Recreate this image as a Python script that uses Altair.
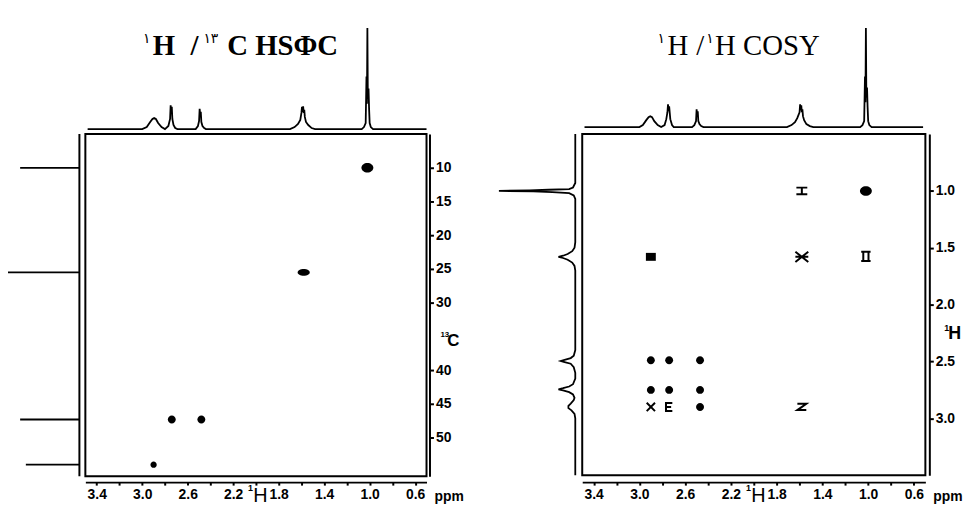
import altair as alt
import pandas as pd

# ---------------- data ----------------
H_PPM = [0.5, 3.5]      # 1H chemical-shift window
C_PPM = [5.0, 55.7]     # 13C chemical-shift window (HSQC F1)

# 1D 1H spectrum above the HSQC map
hsqc_top_ppm = [3.48, 3.00,
                2.96, 2.93, 2.91, 2.895, 2.88, 2.86, 2.83, 2.80,
                2.77, 2.755, 2.75, 2.745, 2.74, 2.735, 2.725, 2.71, 2.69,
                2.53, 2.51, 2.50, 2.495, 2.49, 2.485, 2.48, 2.47, 2.455, 2.44,
                1.70, 1.66, 1.63, 1.61, 1.60, 1.595, 1.59, 1.585, 1.58, 1.575, 1.57, 1.56, 1.54, 1.51, 1.48,
                1.07, 1.05, 1.035, 1.028, 1.024, 1.02, 1.016, 1.01, 1.005, 1.00, 0.99, 0.97,
                0.50]
hsqc_top_int = [0.0, 0.0,
                0.02, 0.07, 0.10, 0.11, 0.10, 0.06, 0.02, 0.0,
                0.03, 0.10, 0.235, 0.17, 0.22, 0.10, 0.04, 0.01, 0.0,
                0.0, 0.03, 0.08, 0.20, 0.14, 0.17, 0.07, 0.03, 0.01, 0.0,
                0.0, 0.02, 0.05, 0.09, 0.16, 0.22, 0.17, 0.225, 0.16, 0.19, 0.12, 0.07, 0.04, 0.01, 0.0,
                0.0, 0.02, 0.06, 0.52, 0.25, 1.0, 0.30, 0.40, 0.20, 0.06, 0.02, 0.0,
                0.0]

# 1D 1H spectrum above the COSY map
cosy_top_ppm = [3.48, 3.00,
                2.97, 2.94, 2.92, 2.905, 2.89, 2.87, 2.84, 2.81,
                2.78, 2.765, 2.755, 2.75, 2.745, 2.74, 2.73, 2.715, 2.70,
                2.54, 2.52, 2.505, 2.50, 2.495, 2.49, 2.485, 2.475, 2.46, 2.44,
                1.71, 1.67, 1.64, 1.62, 1.60, 1.595, 1.59, 1.585, 1.58, 1.575, 1.57, 1.56, 1.54, 1.51, 1.48,
                1.07, 1.05, 1.035, 1.028, 1.024, 1.02, 1.016, 1.01, 1.005, 1.00, 0.99, 0.97,
                0.52]
cosy_top_int = [0.0, 0.0,
                0.02, 0.07, 0.10, 0.11, 0.10, 0.06, 0.02, 0.0,
                0.02, 0.08, 0.15, 0.23, 0.16, 0.21, 0.08, 0.02, 0.0,
                0.0, 0.02, 0.06, 0.18, 0.12, 0.16, 0.06, 0.03, 0.01, 0.0,
                0.0, 0.02, 0.05, 0.09, 0.15, 0.23, 0.17, 0.22, 0.15, 0.18, 0.11, 0.07, 0.03, 0.01, 0.0,
                0.0, 0.02, 0.06, 0.51, 0.25, 1.0, 0.30, 0.40, 0.20, 0.06, 0.02, 0.0,
                0.0]

# 1D 1H projection along the COSY F1 axis
cosy_side_ppm = [0.50, 0.93, 0.97, 0.985, 0.99, 0.995, 1.00, 1.005, 1.01, 1.02, 1.04, 1.07,
                 1.45, 1.50, 1.53, 1.555, 1.57, 1.58, 1.59, 1.605, 1.63, 1.66, 1.70,
                 2.40, 2.45, 2.47, 2.485, 2.495, 2.505, 2.52, 2.55, 2.60,
                 2.65, 2.70, 2.72, 2.735, 2.745, 2.755, 2.77, 2.79, 2.82,
                 2.84, 2.87, 2.89, 2.91, 2.93, 2.96, 3.00, 3.50]
cosy_side_int = [0.0, 0.0, 0.03, 0.08, 0.35, 0.60, 1.00, 0.55, 0.30, 0.08, 0.02, 0.0,
                 0.0, 0.01, 0.04, 0.10, 0.16, 0.22, 0.16, 0.10, 0.04, 0.01, 0.0,
                 0.0, 0.02, 0.06, 0.14, 0.19, 0.14, 0.06, 0.02, 0.0,
                 0.0, 0.03, 0.08, 0.16, 0.22, 0.16, 0.08, 0.03, 0.01,
                 0.02, 0.06, 0.09, 0.09, 0.05, 0.01, 0.0, 0.0]

# 13C lines along the HSQC F1 axis
c13_ppm = [10.0, 25.5, 47.3, 54.0]
c13_int = [0.83, 1.00, 0.83, 0.75]

# HSQC cross peaks
hsqc_f2 = [1.02, 1.58, 2.74, 2.48, 2.90]
hsqc_f1 = [10.0, 25.5, 47.3, 47.3, 54.0]
hsqc_type = ["strong", "oval", "medium", "medium", "weak"]

# COSY peaks
cosy_f2 = [1.58, 1.02, 2.90, 1.58, 1.02, 2.90, 2.74, 2.47, 2.90, 2.74, 2.47, 2.90, 2.74, 2.47, 1.58]
cosy_f1 = [1.00, 1.00, 1.58, 1.58, 1.58, 2.49, 2.49, 2.49, 2.75, 2.75, 2.75, 2.90, 2.90, 2.90, 2.90]
cosy_type = ["H", "strong", "square", "star", "P", "medium", "medium", "medium",
             "medium", "medium", "medium", "x", "E", "medium", "Z"]

# axis ticks
h_ticks = [3.4, 3.2, 3.0, 2.8, 2.6, 2.4, 2.2, 2.0, 1.8, 1.6, 1.4, 1.2, 1.0, 0.8, 0.6]
c_ticks = [10, 15, 20, 25, 30, 40, 45, 50]
h1_ticks = [1.0, 1.5, 2.0, 2.5, 3.0]

# ---------------- styling / layout ----------------
W, H = 925, 470
P1X, P1Y, P1TOP, P1SIDE = [422, 78], [125, 470], [120, 18], [72, 0]
P2X, P2Y, P2TOP, P2SIDE = [925, 579], [125, 469], [118, 18], [572, 495]

FILLED = {"strong": ("M-1,0A1,0.8,0,1,0,1,0A1,0.8,0,1,0,-1,0Z", 144),
          "oval": ("M-1,0A1,0.55,0,1,0,1,0A1,0.55,0,1,0,-1,0Z", 150),
          "medium": ("M-1,0A1,1,0,1,0,1,0A1,1,0,1,0,-1,0Z", 64),
          "weak": ("M-1,0A1,1,0,1,0,1,0A1,1,0,1,0,-1,0Z", 40),
          "square": ("M-1,-0.8H1V0.8H-1Z", 100)}
STROKED = {"H": ("M-1,-0.6H1M-1,0.6H1M0,-0.6V0.6", 121),
           "star": ("M-1,-0.8L1,0.8M1,-0.8L-1,0.8M-1,0H1", 169),
           "P": ("M-0.9,-1H0.9M-0.5,-1V1M0.5,-1V1M-0.9,0.8H0.9", 110),
           "x": ("M-1,-1L1,1M1,-1L-1,1", 70),
           "E": ("M0.8,-1H-0.8V1H0.8M-0.8,0H0.5", 64),
           "Z": ("M-1,-0.7H1L-1,0.7H1", 81)}

AX = dict(grid=False, title=None, domainColor="black", domainWidth=2, tickColor="black",
          tickWidth=2, labelColor="black", labelFont="Liberation Sans", labelFontWeight="bold",
          labelFontSize=14, labelFlush=False, labelOverlap=False)
BOTTOM_EXPR = "round(datum.value*10) % 4 == 2 ? format(datum.value, '.1f') : ''"


def S(domain, rng):
    return alt.Scale(domain=domain, range=rng, zero=False, nice=False)


def text_px(s, x, y, size, font="Liberation Sans", weight="bold", align="left"):
    return alt.Chart(pd.DataFrame({"t": [s]})).mark_text(
        align=align, baseline="alphabetic", fontSize=size, font=font,
        fontWeight=weight, color="black").encode(x=alt.value(x), y=alt.value(y), text="t:N")


def text_x(s, v, xscale, y, size, dx=0, weight="normal"):
    return alt.Chart(pd.DataFrame({"t": [s], "v": [v]})).mark_text(
        align="center", baseline="alphabetic", fontSize=size, font="Liberation Sans",
        fontWeight=weight, color="black", dx=dx).encode(
        x=alt.X("v:Q", scale=xscale, axis=None), y=alt.value(y), text="t:N")


def peaks(df, xs, ys):
    out = []
    for kind in df["type"].unique():
        sel = df[df["type"] == kind]
        if kind in FILLED:
            path, size = FILLED[kind]
            m = alt.Chart(sel).mark_point(shape=path, size=size, filled=True, opacity=1,
                                          color="black", strokeWidth=0)
        else:
            path, size = STROKED[kind]
            m = alt.Chart(sel).mark_point(shape=path, size=size, filled=False, opacity=1,
                                          color="black", strokeWidth=2)
        out.append(m.encode(x=alt.X("f2:Q", scale=xs, axis=None),
                            y=alt.Y("f1:Q", scale=ys, axis=None)))
    return out


def panel(xr, yr, ydom, top_ppm, top_int, toprange, siderange, yaxis, side_layers, peak_df):
    xs = S(H_PPM, xr)
    ys = S(ydom, yr)
    frame = alt.Chart(pd.DataFrame({"x1": [H_PPM[0]], "x2": [H_PPM[1]],
                                    "y1": [ydom[0]], "y2": [ydom[1]]})).mark_rect(
        fillOpacity=0, stroke="black", strokeWidth=2).encode(
        x=alt.X("x1:Q", scale=xs, axis=alt.Axis(orient="bottom", offset=6, values=h_ticks,
                                                tickSize=3, labelPadding=3,
                                                labelExpr=BOTTOM_EXPR, **AX)),
        x2="x2:Q",
        y=alt.Y("y1:Q", scale=ys, axis=yaxis),
        y2="y2:Q")
    top = alt.Chart(pd.DataFrame({"ppm": top_ppm, "int": top_int})).mark_line(
        color="black", strokeWidth=1.8).encode(
        x=alt.X("ppm:Q", scale=xs, axis=None),
        y=alt.Y("int:Q", scale=S([0, 1], toprange), axis=None),
        order="ppm:Q")
    layers = [frame, top]
    layers += side_layers(ys, S([0, 1], siderange))
    layers += peaks(peak_df, xs, ys)
    return layers, xs, ys


def hsqc_side(ys, ss):
    sticks = alt.Chart(pd.DataFrame({"ppm": c13_ppm, "int": c13_int, "zero": 0.0})).mark_rule(
        color="black", strokeWidth=1.8).encode(
        x=alt.X("zero:Q", scale=ss, axis=None), x2="int:Q",
        y=alt.Y("ppm:Q", scale=ys, axis=None))
    base = alt.Chart(pd.DataFrame({"zero": [0.0], "y1": [C_PPM[0]], "y2": [C_PPM[1]]})).mark_rule(
        color="black", strokeWidth=2).encode(
        x=alt.X("zero:Q", scale=ss, axis=None),
        y=alt.Y("y1:Q", scale=ys, axis=None), y2="y2:Q")
    return [sticks, base]


def cosy_side(ys, ss):
    line = alt.Chart(pd.DataFrame({"ppm": cosy_side_ppm, "int": cosy_side_int})).mark_line(
        color="black", strokeWidth=1.8).encode(
        x=alt.X("int:Q", scale=ss, axis=None),
        y=alt.Y("ppm:Q", scale=ys, axis=None),
        order="ppm:Q")
    return [line]


hsqc_df = pd.DataFrame({"f2": hsqc_f2, "f1": hsqc_f1, "type": hsqc_type})
cosy_df = pd.DataFrame({"f2": cosy_f2, "f1": cosy_f1, "type": cosy_type})

yax1 = alt.Axis(orient="right", offset=-500, values=c_ticks, format="d", tickSize=4,
                labelPadding=2, **AX)
yax2 = alt.Axis(orient="right", offset=4, values=h1_ticks, format=".1f", tickSize=4,
                labelPadding=2, **AX)

L1, xs1, ys1 = panel(P1X, P1Y, C_PPM, hsqc_top_ppm, hsqc_top_int, P1TOP, P1SIDE, yax1, hsqc_side, hsqc_df)
L2, xs2, ys2 = panel(P2X, P2Y, H_PPM, cosy_top_ppm, cosy_top_int, P2TOP, P2SIDE, yax2, cosy_side, cosy_df)

SERIF = "Liberation Serif"
ARAB = "DejaVu Sans"
texts = [
    # HSQC title
    text_px("\u06f1", 136, 33, 14, ARAB, "normal"),
    text_px("H", 146, 45, 29, SERIF, "bold"),
    text_px("/", 184, 45, 29, SERIF, "bold"),
    text_px("\u06f1\u06f3", 197, 33, 14, ARAB, "normal"),
    text_px("C HS\u03a6C", 221, 45, 29, SERIF, "bold"),
    # COSY title
    text_px("\u06f1", 655, 33, 14, ARAB, "normal"),
    text_px("H", 665, 45, 29, SERIF, "normal"),
    text_px("/", 694, 45, 29, SERIF, "normal"),
    text_px("\u06f1", 704, 33, 14, ARAB, "normal"),
    text_px("H COSY", 713, 45, 29, SERIF, "normal"),
    # axis titles and units
    text_x("H", 1.96, xs1, 496, 20),
    text_x("1", 1.96, xs1, 485, 9, dx=-10, weight="bold"),
    text_x("H", 1.96, xs2, 496, 20),
    text_x("1", 1.96, xs2, 485, 9, dx=-10, weight="bold"),
    text_px("ppm", 430, 495, 14),
    text_px("ppm", 933, 495, 14),
    text_px("13", 436, 330, 8),
    text_px("C", 443, 339, 17),
    text_px("1", 944, 324, 9),
    text_px("H", 948, 332, 18),
]

chart = alt.layer(*(L1 + L2 + texts)).resolve_scale(
    x="independent", y="independent"
).properties(width=W, height=H).configure(
    padding={"left": 0, "top": 0, "right": 45, "bottom": 30},
    autosize=alt.AutoSizeParams(type="none"),
    background="white",
).configure_view(stroke=None)

chart.save("out.html", embed_options={"renderer": "svg", "actions": False})
